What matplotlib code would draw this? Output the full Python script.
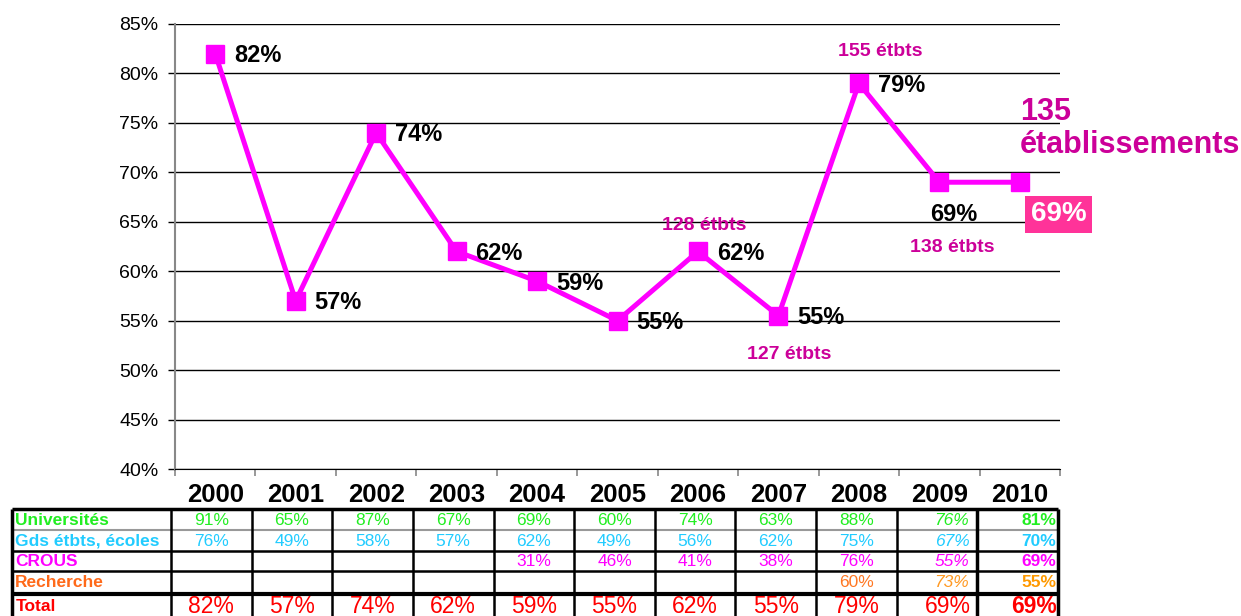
import numpy as np
import matplotlib
matplotlib.use('Agg')
import matplotlib.pyplot as plt

plt.rcParams['font.family'] = ['Liberation Sans', 'DejaVu Sans']

# data
years = ['2000', '2001', '2002', '2003', '2004', '2005', '2006', '2007', '2008', '2009', '2010']
taux = [82, 57, 74, 62, 59, 55, 62, 55.5, 79, 69, 69]
taux_labels = ['82%', '57%', '74%', '62%', '59%', '55%', '62%', '55%', '79%', '69%', '69%']
etbts_notes = {6: '128 étbts', 7: '127 étbts', 8: '155 étbts', 9: '138 étbts'}
y_ticks = [40, 45, 50, 55, 60, 65, 70, 75, 80, 85]

universites = [91, 65, 87, 67, 69, 60, 74, 63, 88, 76, 81]
grands_etab = [76, 49, 58, 57, 62, 49, 56, 62, 75, 67, 70]
crous = [None, None, None, None, 31, 46, 41, 38, 76, 55, 69]
recherche = [None, None, None, None, None, None, None, None, 60, 73, 55]
total = [82, 57, 74, 62, 59, 55, 62, 55, 79, 69, 69]

MAG = '#FF00FF'
PINK_TXT = '#CC0099'
W, H = 1241, 616

fig = plt.figure(figsize=(W / 100, H / 100), dpi=100)
ax = fig.add_axes([175 / W, (H - 469) / H, 885 / W, 445 / H])
x = np.arange(len(years))

ax.plot(x, taux, color=MAG, lw=3.6, marker='s', ms=13.5, mfc=MAG, mec=MAG, zorder=3)
ax.set_xlim(-0.5, 10.5)
ax.set_ylim(40, 85)
ax.set_yticks(y_ticks)
ax.set_yticklabels([f'{t}%' for t in y_ticks], fontsize=14)
ax.yaxis.grid(True, color='black', lw=1)
ax.set_axisbelow(True)
ax.tick_params(axis='y', length=5, width=1, color='black', pad=7)
ax.set_xticks(x)
ax.set_xticklabels(years, fontsize=18.5, fontweight='bold')
ax.tick_params(axis='x', length=0, pad=10)
ax.set_xticks(np.arange(-0.5, 11, 1), minor=True)
ax.tick_params(axis='x', which='minor', length=5, color='#888888', width=1.2)
for s in ['top', 'right']:
    ax.spines[s].set_visible(False)
ax.spines['left'].set_color('#888888')
ax.spines['left'].set_linewidth(1.5)
ax.spines['bottom'].set_color('black')

# value labels
for i, (v, lab) in enumerate(zip(taux, taux_labels)):
    if i == 9:
        ax.annotate(lab, (i, v), xytext=(14, -32), textcoords='offset pixels',
                    ha='center', va='center', fontsize=17, fontweight='bold')
    elif i == 10:
        ax.annotate(lab, (i, v), xytext=(39, -32), textcoords='offset pixels',
                    ha='center', va='center', fontsize=20, fontweight='bold', color='white',
                    bbox=dict(boxstyle='square,pad=0.2', fc='#FF3399', ec='none'),
                    annotation_clip=False)
    else:
        ax.annotate(lab, (i, v), xytext=(19, -2), textcoords='offset pixels',
                    ha='left', va='center', fontsize=17, fontweight='bold')

note_off = {6: (6, 26), 7: (11, -39), 8: (21, 32), 9: (13, -65)}
for i, txt in etbts_notes.items():
    ax.annotate(txt, (i, taux[i]), xytext=note_off[i], textcoords='offset pixels',
                ha='center', va='center', fontsize=14, fontweight='bold', color=PINK_TXT)

ax.annotate('135\nétablissements', (10, taux[10]), xytext=(0, 54), textcoords='offset pixels',
            ha='left', va='center', fontsize=22, fontweight='bold', color=PINK_TXT,
            linespacing=1.12, annotation_clip=False)

# table
tab = fig.add_axes([171 / W, 0, 887 / W, 107 / H])
tab.set_xlim(-0.5, 10.5)
tab.set_ylim(5.15, 0)
tab.axis('off')
left = -2.47

rows = [
    ('Universités', '#22EE22', universites, ['#22EE22'] * 11),
    ('Gds étbts, écoles', '#22CCFF', grands_etab, ['#22CCFF'] * 11),
    ('CROUS', MAG, crous, [MAG] * 11),
    ('Recherche', '#FF6A1A', recherche, ['#FF7722'] * 9 + ['#FF9922', '#FF9900']),
]
for r, (name, col, vals, vcols) in enumerate(rows):
    yc = r + 0.55
    tab.text(left + 0.04, yc, name, ha='left', va='center', fontsize=12.5,
             fontweight='bold', color=col, clip_on=False)
    for i, v in enumerate(vals):
        if v is None:
            continue
        if i == 9:
            tab.text(i + 0.4, yc, f'{v}%', ha='right', va='center', fontsize=12.5,
                     style='italic', color=vcols[i])
        elif i == 10:
            tab.text(i + 0.48, yc, f'{v}%', ha='right', va='center', fontsize=12.5,
                     fontweight='bold', color=vcols[i])
        else:
            tab.text(i, yc, f'{v}%', ha='center', va='center', fontsize=12.5, color=vcols[i])

yt = 4.7
tab.text(left + 0.04, yt, 'Total', ha='left', va='center', fontsize=12.5,
         fontweight='bold', color='#FF0000', clip_on=False)
for i, v in enumerate(total):
    kw = dict(va='center', fontsize=16.5, color='#FF0000')
    if i == 9:
        tab.text(i + 0.42, yt, f'{v}%', ha='right', **kw)
    elif i == 10:
        tab.text(i + 0.48, yt, f'{v}%', ha='right', fontweight='bold', **kw)
    else:
        tab.text(i, yt, f'{v}%', ha='center', **kw)

# grid lines of table
tab.hlines(0, left, 10.5, color='black', lw=2.5, clip_on=False)
tab.hlines(1, left, 10.5, color='#999999', lw=1.5, clip_on=False)
tab.hlines([2, 3], left, 10.5, color='black', lw=1.8, clip_on=False)
tab.hlines(4.1, left, 10.5, color='black', lw=3, clip_on=False)
tab.vlines([left, 10.5, 9.5], 0, 5.15, color='black', lw=2.5, clip_on=False)
tab.vlines(np.arange(-0.5, 9.5, 1), 0, 5.15, color='black', lw=1.8, clip_on=False)

fig.savefig('out.png', dpi=100)
